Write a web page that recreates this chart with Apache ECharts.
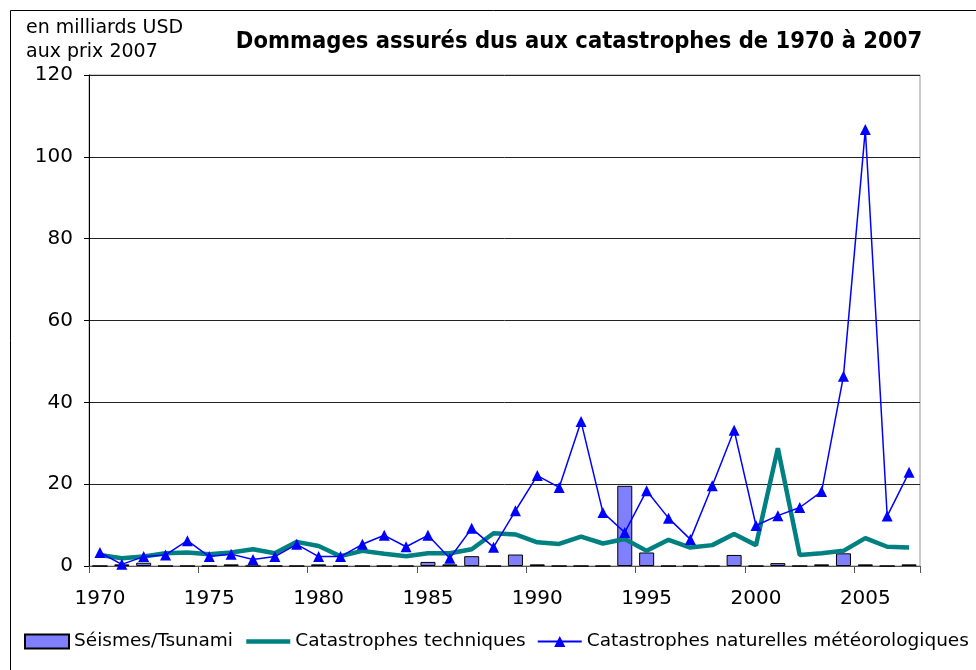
<!DOCTYPE html>
<html>
<head>
<meta charset="utf-8">
<script src="https://cdn.jsdelivr.net/npm/echarts@6/dist/echarts.min.js"></script>
<style>
html,body{margin:0;padding:0;background:#fff;}
#chart{width:976px;height:670px;}
</style>
</head>
<body>
<div id="chart"></div>
<script>
const years = [1970,1971,1972,1973,1974,1975,1976,1977,1978,1979,1980,1981,1982,1983,1984,1985,1986,1987,1988,1989,1990,1991,1992,1993,1994,1995,1996,1997,1998,1999,2000,2001,2002,2003,2004,2005,2006,2007].map(String);
const seismes = [0,0.4,0.8,0,0,0,0.4,0,0,0,0.4,0,0,0,0,1.0,0.4,2.4,0,2.8,0.4,0,0,0,19.6,3.3,0,0,0,2.7,0,0.7,0,0.4,3.1,0.4,0,0.4];
const techniques = [2.7,1.9,2.3,3.1,3.3,2.9,3.3,4.1,3.1,5.9,4.9,2.4,3.7,3.0,2.4,3.1,3.1,4.1,8.0,7.7,5.8,5.4,7.2,5.5,6.6,3.7,6.4,4.5,5.1,7.8,5.1,28.8,2.7,3.1,3.7,6.8,4.7,4.5];
const naturelles = [3.3,0.4,2.3,2.7,6.2,2.3,2.9,1.6,2.3,5.3,2.3,2.3,5.3,7.5,4.7,7.5,1.9,9.2,4.6,13.5,22.1,19.2,35.3,13.1,8.2,18.4,11.7,6.5,19.6,33.2,9.9,12.3,14.3,18.2,46.4,106.7,12.2,22.9];
const yTicks = {min:0, max:120, interval:20};
const seriesNames = ['Séismes/Tsunami','Catastrophes techniques','Catastrophes naturelles météorologiques'];

const chart = echarts.init(document.getElementById('chart'), null, {renderer:'canvas'});
const font = 'DejaVu Sans';
chart.setOption({
  animation:false,
  backgroundColor:'#fff',
  title:{
    text:'Dommages assurés dus aux catastrophes de 1970 à 2007',
    left:574, top:25, textAlign:'center',
    textStyle:{fontFamily:"'Liberation Sans Narrow','DejaVu Sans Condensed',sans-serif",fontWeight:'bold',fontSize:23.5,color:'#000'}
  },
  graphic:[
    {type:'rect',shape:{x:10.5,y:10.5,width:1000,height:700},style:{fill:'none',stroke:'#000',lineWidth:1},silent:true,z:-1},
    {type:'text',left:26,top:19,style:{text:'en milliards USD',font:'19px DejaVu Sans',fill:'#000'}},
    {type:'text',left:26,top:43,style:{text:'aux prix 2007',font:'19px DejaVu Sans',fill:'#000'}}
  ],
  legend:{
    data:[
      {name:seriesNames[0],icon:'rect'},
      {name:seriesNames[1],itemStyle:{opacity:0},lineStyle:{width:4.5}},
      {name:seriesNames[2]}
    ],
    left:19, top:627,
    itemWidth:44, itemHeight:14, itemGap:11,
    textStyle:{fontFamily:font,fontSize:18.5,color:'#000'}
  },
  grid:{left:89,right:56,top:75,bottom:104,show:true,borderColor:'#999',borderWidth:1,backgroundColor:'transparent'},
  xAxis:{
    type:'category',data:years,boundaryGap:true,
    axisLine:{lineStyle:{color:'#555',width:1}},
    axisTick:{show:true,interval:4,length:7,alignWithLabel:false,lineStyle:{color:'#555'}},
    axisLabel:{interval:4,margin:23,fontFamily:font,fontSize:20,color:'#000'},
    splitLine:{show:false}
  },
  yAxis:{
    type:'value',min:yTicks.min,max:yTicks.max,interval:yTicks.interval,
    axisLine:{show:true,lineStyle:{color:'#000',width:1}},
    axisTick:{show:true,length:5,lineStyle:{color:'#000'}},
    axisLabel:{margin:16,fontFamily:font,fontSize:20,color:'#000'},
    splitLine:{show:true,lineStyle:{color:'#222',width:1}}
  },
  series:[
    {name:seriesNames[0],type:'bar',data:seismes,barWidth:15,
     itemStyle:{color:'#8080FF',borderColor:'#000',borderWidth:1}},
    {name:seriesNames[1],type:'line',data:techniques,symbol:'none',
     lineStyle:{color:'#008080',width:4.5},itemStyle:{color:'#008080'}},
    {name:seriesNames[2],type:'line',data:naturelles,symbol:'triangle',symbolSize:11,
     lineStyle:{color:'#0000FF',width:1.5},itemStyle:{color:'#0000FF'}}
  ]
});
</script>
</body>
</html>
